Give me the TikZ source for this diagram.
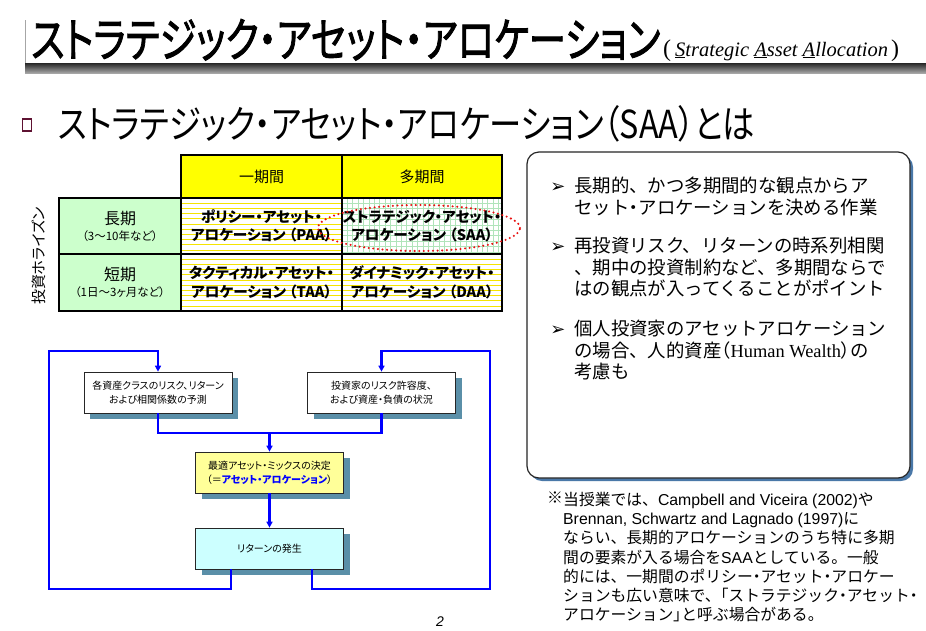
\documentclass[tikz,border=0pt]{standalone}
\usepackage{fontspec}
\usepackage{graphicx}
\usetikzlibrary{shapes.geometric,arrows.meta,shadows,calc}
\setmainfont{Liberation Sans}
\newfontfamily\jp[RawFeature=+palt]{Noto Sans CJK JP}
\newfontfamily\jpt[RawFeature=+palt, FakeBold=2]{Noto Sans CJK JP}
\newfontfamily\jpm{Noto Sans CJK JP}
\newfontfamily\tms{Liberation Serif}
\newfontfamily\latf{Liberation Sans}
\newfontfamily\dv{DejaVu Sans}
\newcommand\nd{{\jp ・}}
\definecolor{hdryellow}{HTML}{FFFF00}
\definecolor{greencell}{HTML}{CCFFCC}
\definecolor{yline}{HTML}{F5E400}
\definecolor{gline}{HTML}{B0E4BA}
\definecolor{fillC}{HTML}{FFFF99}
\definecolor{fillD}{HTML}{CCFFFF}
\definecolor{shblue}{HTML}{5A8FA8}
\definecolor{flowblue}{HTML}{0000FF}
\definecolor{maroonb}{HTML}{5E1232}
\definecolor{boxsh}{HTML}{4A78A8}
\definecolor{dotred}{HTML}{E81010}
\tikzset{
  cellb/.style={draw=black, line width=1.3pt, inner sep=0, align=center},
  hlines/.style={path picture={\foreach \k in {1,...,12}{\draw[yline, line width=0.9pt] ([yshift=-\k*5.2pt]path picture bounding box.north west) -- ([yshift=-\k*5.2pt]path picture bounding box.north east);}}},
  glines/.style={path picture={\foreach \k in {1,...,12}{\draw[gline, line width=0.8pt] ([yshift=-\k*5.4pt]path picture bounding box.north west) -- ([yshift=-\k*5.4pt]path picture bounding box.north east);}
    \foreach \k in {1,...,30}{\draw[gline, line width=0.8pt] ([xshift=\k*5.4pt]path picture bounding box.north west) -- ([xshift=\k*5.4pt]path picture bounding box.south west);}}},
  bodytxt/.style={font=\jp\bfseries\fontsize{14.6}{18.5}\selectfont},
  fbox/.style={draw=black!85, line width=0.7pt, minimum width=148, minimum height=41, align=center, inner sep=0,
    font=\jp\fontsize{10}{14}\selectfont,
    drop shadow={shadow xshift=6pt, shadow yshift=-6pt, fill=shblue, opacity=1}},
  flow/.style={draw=flowblue, line width=2.2pt},
  flowarr/.style={flow, -{Triangle[length=6pt,width=6pt]}},
  bul/.style={font=\dv\fontsize{18}{18}\selectfont, inner sep=0},
  rtxt/.style={anchor=north west, align=left, inner sep=0, font=\jpm\fontsize{18.4}{21.4}\selectfont},
  ntxt/.style={anchor=north west, align=left, inner sep=0, font=\jpm\fontsize{15.8}{19.2}\selectfont},
}
\begin{document}
\begin{tikzpicture}[x=1pt,y=-1pt]
\useasboundingbox[fill=white] (0,0) rectangle (926,630);

% ---------- title bar ----------
\draw[black!35, line width=0.8pt] (25,20) coordinate (tl) -- (25,64) coordinate (bl);
\shade[top color=black!85, bottom color=black!35] (25,63) rectangle (926,73);
\node[anchor=base west, inner sep=0] (title) at (31,57)
  {\resizebox{629pt}{38pt}{\jpt ストラテジック・アセット・アロケーション}};
\node[anchor=base west, inner sep=0] (titlesub) at (663,56)
  {{\tms\fontsize{24}{24}\selectfont (}\hspace{4pt}{\tms\itshape\fontsize{20.5}{20}\selectfont \underline{S}trategic \underline{A}sset \underline{A}llocation}\hspace{3pt}{\tms\fontsize{24}{24}\selectfont )}};

% ---------- heading ----------
\node[draw=maroonb, line width=1.3pt, minimum width=9, minimum height=12, inner sep=0] (hbul) at (27,125) {};
\node[anchor=base west, inner sep=0] (heading) at (58,138)
  {\resizebox{697pt}{33pt}{\jp ストラテジック・アセット・アロケーション（SAA）とは}};

% ---------- table ----------
\node[rotate=90, inner sep=0] (vlabel) at (39,256) {\jp\fontsize{15}{15}\selectfont 投資ホライズン};

\node[cellb, fill=hdryellow, minimum width=161, minimum height=43] (h1) at (261.5,176.5) {\jp\fontsize{15}{15}\selectfont 一期間};
\node[cellb, fill=hdryellow, minimum width=160, minimum height=43] (h2) at (422,176.5) {\jp\fontsize{15}{15}\selectfont 多期間};

\node[cellb, fill=greencell, minimum width=122, minimum height=56] (r1) at (120,226)
  {{\jp\fontsize{16}{18}\selectfont 長期}\\[4pt]{\jp\fontsize{11.5}{14}\selectfont （3～10年など）}};
\node[cellb, fill=greencell, minimum width=122, minimum height=57] (r2) at (120,282.5)
  {{\jp\fontsize{16}{18}\selectfont 短期}\\[4pt]{\jp\fontsize{11.5}{14}\selectfont （1日～3ヶ月など）}};

\node[cellb, fill=white, hlines, minimum width=161, minimum height=56, bodytxt] (c11) at (261.5,226)
  {ポリシー・アセット・\\アロケーション （PAA）};
\node[cellb, fill=white, glines, minimum width=160, minimum height=56, bodytxt] (c12) at (422,226)
  {ストラテジック・アセット・\\アロケーション （SAA）};
\node[cellb, fill=white, hlines, minimum width=161, minimum height=57, bodytxt] (c21) at (261.5,282.5)
  {タクティカル・アセット・\\アロケーション （TAA）};
\node[cellb, fill=white, hlines, minimum width=160, minimum height=57, bodytxt] (c22) at (422,282.5)
  {ダイナミック・アセット・\\アロケーション （DAA）};

\node[draw=dotred, line width=2.3pt, line cap=round, dash pattern=on 0pt off 4.6pt,
  ellipse, minimum width=202, minimum height=46, inner sep=0] (hl) at (419,228) {};

% ---------- flowchart ----------
\node[fbox, fill=white] (A) at (158,392.5) {各資産クラスのリスク、リターン\\および相関係数の予測};
\node[fbox, fill=white] (B) at (381.5,392.5) {投資家のリスク許容度、\\および資産・負債の状況};
\node[fbox, fill=fillC] (C) at (269.5,472.5) {最適アセット・ミックスの決定\\（＝{\color{flowblue}\bfseries アセット・アロケーション}）};
\node[fbox, fill=fillD] (D) at (269.5,548.5) {リターンの発生};

\coordinate (J) at ($(C.north)+(0,-19)$);
\draw[flow] (A.south) -- (A.south |- J) -- (B.south |- J) -- (B.south);
\draw[flowarr] (J) -- (C.north);
\draw[flowarr] (C.south) -- (D.north);

\coordinate (DL) at ($(D.south west)+(36,0)$);
\coordinate (DR) at ($(D.south west)+(117,0)$);
\draw[flowarr] (DL) -- ++(0,20) -| (49,351) -| (A.north);
\draw[flowarr] (DR) -- ++(0,20) -| (490,351) -| (B.north);

% ---------- right box ----------
\node[draw=black!85, line width=1.2pt, rounded corners=12pt, fill=white, minimum width=383, minimum height=326,
  drop shadow={shadow xshift=3pt, shadow yshift=-3pt, fill=boxsh, opacity=1}] (rbox) at (718.5,315) {};
\node[bul] (b1) at (558,188) {➢};
\node[bul] (b2) at (558,248) {➢};
\node[bul] (b3) at (558,331) {➢};
\node[rtxt] (p1) at (574,177) {長期的、かつ多期間的な観点からア\\セット\nd アロケーションを決める作業};
\node[rtxt] (p2) at (574,237) {再投資リスク、リターンの時系列相関\\、期中の投資制約など、多期間ならで\\はの観点が入ってくることがポイント};
\node[rtxt] (p3) at (574,320) {個人投資家のアセットアロケーション\\の場合、人的資産{\jp （}{\tms Human Wealth}{\jp ）}の\\考慮も};

% ---------- note ----------
\node[ntxt] (nmark) at (547,492) {※};
\node[ntxt] (note) at (563,492) {当授業では、{\latf Campbell and Viceira (2002)}や\\{\latf Brennan, Schwartz and Lagnado (1997)}に\\ならい、長期的アロケーションのうち特に多期\\間の要素が入る場合を{\latf SAA}としている。一般\\的には、一期間のポリシー\nd アセット\nd アロケー\\ションも広い意味で、{\jp 「}ストラテジック\nd アセット\nd \\アロケーション{\jp 」}と呼ぶ場合がある。};

% ---------- page number ----------
\node[inner sep=0] (pnum) at (440,622) {\itshape\fontsize{14}{14}\selectfont 2};
\end{tikzpicture}
\end{document}
